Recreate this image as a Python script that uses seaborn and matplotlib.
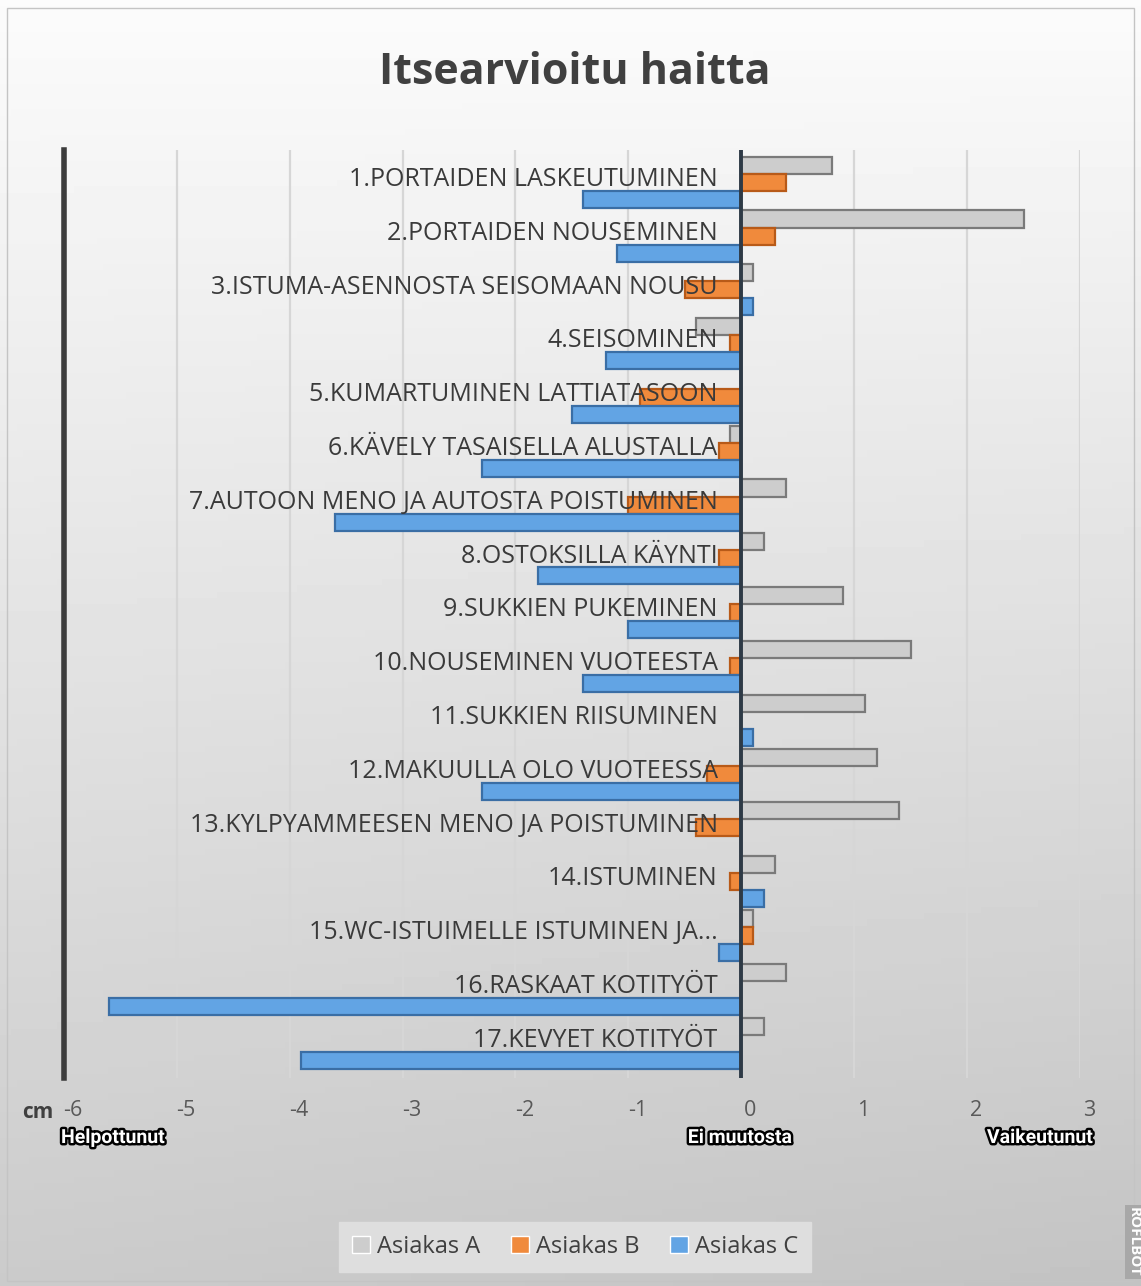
import numpy as np
import pandas as pd
import matplotlib
matplotlib.use("Agg")
import matplotlib.pyplot as plt
import matplotlib.patheffects as pe
from matplotlib.patches import Rectangle
from matplotlib.transforms import ScaledTranslation
import seaborn as sns

categories = [
    "1.PORTAIDEN LASKEUTUMINEN",
    "2.PORTAIDEN NOUSEMINEN",
    "3.ISTUMA-ASENNOSTA SEISOMAAN NOUSU",
    "4.SEISOMINEN",
    "5.KUMARTUMINEN LATTIATASOON",
    "6.KÄVELY TASAISELLA ALUSTALLA",
    "7.AUTOON MENO JA AUTOSTA POISTUMINEN",
    "8.OSTOKSILLA KÄYNTI",
    "9.SUKKIEN PUKEMINEN",
    "10.NOUSEMINEN VUOTEESTA",
    "11.SUKKIEN RIISUMINEN",
    "12.MAKUULLA OLO VUOTEESSA",
    "13.KYLPYAMMEESEN MENO JA POISTUMINEN",
    "14.ISTUMINEN",
    "15.WC-ISTUIMELLE ISTUMINEN JA...",
    "16.RASKAAT KOTITYÖT",
    "17.KEVYET KOTITYÖT",
]
asiakas_a = [0.8, 2.5, 0.1, -0.4, 0.0, -0.1, 0.4, 0.2, 0.9, 1.5, 1.1, 1.2, 1.4, 0.3, 0.1, 0.4, 0.2]
asiakas_b = [0.4, 0.3, -0.5, -0.1, -0.9, -0.2, -1.0, -0.2, -0.1, -0.1, 0.0, -0.3, -0.4, -0.1, 0.1, 0.0, 0.0]
asiakas_c = [-1.4, -1.1, 0.1, -1.2, -1.5, -2.3, -3.6, -1.8, -1.0, -1.4, 0.1, -2.3, 0.0, 0.2, -0.2, -5.6, -3.9]
series_names = ["Asiakas A", "Asiakas B", "Asiakas C"]
x_ticks = [-6, -5, -4, -3, -2, -1, 0, 1, 2, 3]
title = "Itsearvioitu haitta"
axis_unit = "cm"
bottom_labels = ["Helpottunut", "Ei muutosta", "Vaikeutunut"]

df = pd.DataFrame({
    "Toiminto": categories * 3,
    "Asiakas": [series_names[0]] * 17 + [series_names[1]] * 17 + [series_names[2]] * 17,
    "cm": asiakas_a + asiakas_b + asiakas_c,
})

face_colors = {"Asiakas A": "#cdcdcd", "Asiakas B": "#f08a3c", "Asiakas C": "#62a4e4"}
edge_colors = ["#7a7a7a", "#b85a18", "#3a6ea5"]

sns.set_theme(style="white")
plt.rcParams["font.family"] = ["Open Sans", "DejaVu Sans"]

fig = plt.figure(figsize=(11.41, 12.86), dpi=100)

# background gradient
bg = fig.add_axes([0, 0, 1, 1], zorder=-10)
yy, xx = np.mgrid[0:1:200j, 0:1:200j]
grad = 0.985 - 0.19 * yy - 0.03 * xx * yy
bg.imshow(grad, cmap="gray", vmin=0, vmax=1, aspect="auto", extent=[0, 1, 0, 1], origin="upper")
bg.set_axis_off()
fig.patches.append(Rectangle((0.006, 0.004), 0.988, 0.99, transform=fig.transFigure,
                             fill=False, edgecolor="#c4c4c4", linewidth=1.0))

ax = fig.add_axes([0.056, 0.1617, 0.8905, 0.7217])
ax.set_facecolor("none")

sns.barplot(data=df, y="Toiminto", x="cm", hue="Asiakas", orient="h",
            palette=face_colors, width=0.95, ax=ax, zorder=3, saturation=1)
for cont, ec in zip(ax.containers, edge_colors):
    for bar in cont:
        bar.set_edgecolor(ec)
        bar.set_linewidth(1.6)

ax.set_xlim(-6, 3)
ax.set_ylim(16.65, -0.6)
ax.set_xticks(x_ticks)
ax.set_xticklabels([str(t) for t in x_ticks], fontsize=15.5, color="#595959")
ax.tick_params(axis="x", length=0, pad=16)
offset = ScaledTranslation(9 / 100, 0, fig.dpi_scale_trans)
for lab in ax.get_xticklabels():
    lab.set_transform(lab.get_transform() + offset)
ax.set_yticks([])
ax.set_xlabel("")
ax.set_ylabel("")
for s in ["top", "right", "bottom"]:
    ax.spines[s].set_visible(False)
ax.spines["left"].set_color("#3c3c3c")
ax.spines["left"].set_linewidth(4)
ax.spines["left"].set_zorder(6)

for t in x_ticks[1:]:
    ax.axvline(t, color="#d6d6d6", linewidth=1.6, zorder=1)
ax.axvline(0, color="#2e3a46", linewidth=2.8, zorder=5)

for i, cat in enumerate(categories):
    ax.text(-0.21, i - 0.05, cat, ha="right", va="center", fontsize=18,
            color="#3a3a3a", zorder=7)

leg = ax.get_legend()
handles, labels = ax.get_legend_handles_labels()
if leg is not None:
    leg.remove()
lg = fig.legend(handles, labels, loc="center", bbox_to_anchor=(575 / 1141, 1 - 1247 / 1286),
                ncol=3, frameon=True, fontsize=17, handlelength=0.75, handleheight=0.75,
                handletextpad=0.3, columnspacing=1.3, borderpad=0.55, fancybox=False)
lg.get_frame().set_facecolor("#dedede")
lg.get_frame().set_edgecolor("#dedede")
lg.get_frame().set_alpha(1)
for txt in lg.get_texts():
    txt.set_color("#404040")

fig.text(575 / 1141, 1 - 72 / 1286, title, ha="center", va="center", fontsize=31,
         fontweight="bold", color="#404040")
fig.text(38 / 1141, 1 - 1112 / 1286, axis_unit, ha="center", va="center", fontsize=15,
         fontweight="bold", color="#404040")

stroke = [pe.withStroke(linewidth=3.5, foreground="black")]
for xpix, txt in zip([113, 740, 1040], bottom_labels):
    fig.text(xpix / 1141, 1 - 1138 / 1286, txt, ha="center", va="center", fontsize=14,
             fontweight="bold", color="white",
             family=["Roboto", "DejaVu Sans"], path_effects=stroke)

fig.text(1134 / 1141, 1 - 1242 / 1286, "ROFLBOT", rotation=-90, ha="center", va="center",
         fontsize=11, fontweight="bold", color="white",
         bbox=dict(boxstyle="square,pad=0.15", facecolor="#a8a8a8", edgecolor="none"))

fig.savefig("out.png", dpi=100)
